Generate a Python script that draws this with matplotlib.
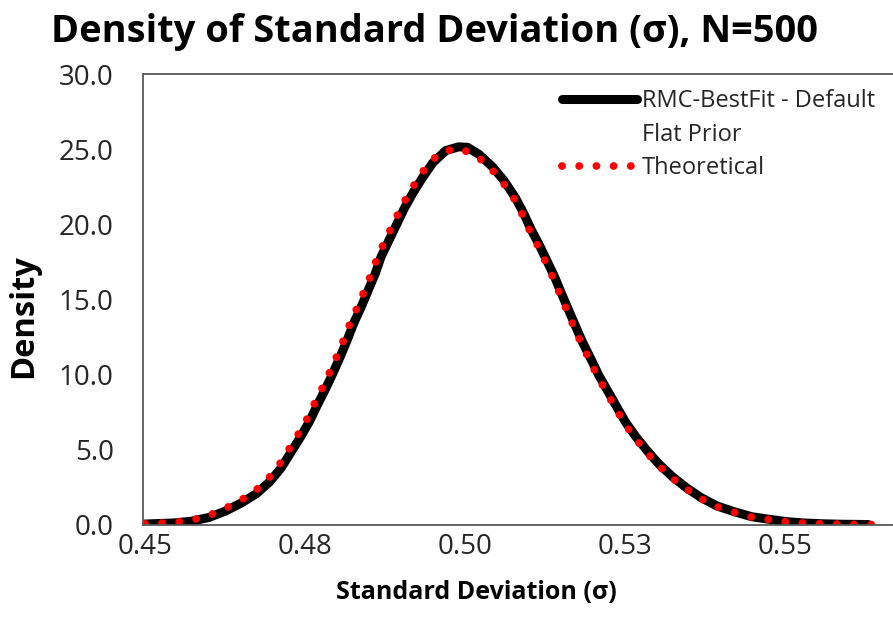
import matplotlib
matplotlib.use("Agg")
import matplotlib.pyplot as plt
from matplotlib.lines import Line2D

plt.rcParams['font.family'] = ['Open Sans', 'DejaVu Sans']

# RMC-BestFit density (default flat prior)
rmc_sigma = [0.4500, 0.4517, 0.4544, 0.4573, 0.4600, 0.4626, 0.4650, 0.4674,
             0.4695, 0.4713, 0.4728, 0.4743, 0.4757, 0.4769, 0.4782, 0.4794,
             0.4805, 0.4816, 0.4826, 0.4838, 0.4849, 0.4860, 0.4869, 0.4881,
             0.4893, 0.4905, 0.4919, 0.4934, 0.4950, 0.4970, 0.4990, 0.5004,
             0.5022, 0.5043, 0.5061, 0.5079, 0.5091, 0.5103, 0.5116, 0.5128,
             0.5140, 0.5151, 0.5162, 0.5173, 0.5184, 0.5197, 0.5209, 0.5223,
             0.5237, 0.5251, 0.5267, 0.5285, 0.5303, 0.5324, 0.5346, 0.5369,
             0.5394, 0.5421, 0.5448, 0.5475, 0.5503, 0.5531, 0.5558, 0.5586,
             0.5630]
rmc_density = [0.03, 0.06, 0.10, 0.22, 0.47, 0.90, 1.42, 2.05,
               2.85, 3.78, 4.80, 5.82, 6.85, 7.92, 9.01, 10.10,
               11.16, 12.28, 13.38, 14.50, 15.61, 16.72, 17.83, 18.90,
               19.96, 21.03, 22.10, 23.12, 24.10, 24.90, 25.15, 25.12,
               24.65, 23.82, 22.90, 21.75, 20.79, 19.68, 18.63, 17.57,
               16.50, 15.37, 14.28, 13.19, 12.12, 11.01, 9.95, 8.90,
               7.85, 6.81, 5.85, 4.90, 4.03, 3.19, 2.45, 1.79,
               1.23, 0.85, 0.52, 0.35, 0.19, 0.10, 0.05, 0.02,
               0.00]

# theoretical density
theo_sigma = [0.4500, 0.4512, 0.4539, 0.4568, 0.4595, 0.4621, 0.4645, 0.4669,
              0.4690, 0.4708, 0.4723, 0.4738, 0.4752, 0.4764, 0.4777, 0.4789,
              0.4800, 0.4811, 0.4821, 0.4833, 0.4844, 0.4855, 0.4864, 0.4876,
              0.4888, 0.4900, 0.4914, 0.4929, 0.4945, 0.4967, 0.4994, 0.5019,
              0.5040, 0.5058, 0.5076, 0.5088, 0.5100, 0.5113, 0.5125, 0.5137,
              0.5148, 0.5159, 0.5170, 0.5181, 0.5194, 0.5206, 0.5220, 0.5234,
              0.5248, 0.5264, 0.5282, 0.5300, 0.5321, 0.5343, 0.5366, 0.5391,
              0.5418, 0.5445, 0.5472, 0.5500, 0.5528, 0.5555, 0.5583, 0.5611,
              0.5640]
theo_density = [0.05, 0.08, 0.12, 0.25, 0.52, 0.97, 1.50, 2.12,
                2.92, 3.85, 4.88, 5.90, 6.92, 7.99, 9.08, 10.17,
                11.23, 12.35, 13.45, 14.57, 15.68, 16.79, 17.90, 18.97,
                20.03, 21.10, 22.17, 23.19, 24.15, 24.90, 25.01, 24.52,
                23.74, 22.85, 21.75, 20.79, 19.68, 18.63, 17.57, 16.50,
                15.37, 14.28, 13.19, 12.12, 11.01, 9.95, 8.90, 7.85,
                6.81, 5.85, 4.90, 4.03, 3.19, 2.45, 1.79, 1.23,
                0.85, 0.52, 0.35, 0.19, 0.10, 0.05, 0.02, 0.01,
                0.00]

xticks = [0.45, 0.475, 0.50, 0.525, 0.55]
xtick_labels = ['0.45', '0.48', '0.50', '0.53', '0.55']
yticks = [0, 5, 10, 15, 20, 25, 30]
ytick_labels = ['0.0', '5.0', '10.0', '15.0', '20.0', '25.0', '30.0']

fig = plt.figure(figsize=(8.93, 6.41), dpi=100)
ax = fig.add_axes([0.1601, 0.1817, 0.8623, 0.7028])

black, = ax.plot(rmc_sigma, rmc_density, color='black', lw=6.5,
                 solid_capstyle='round', solid_joinstyle='round')
red, = ax.plot(theo_sigma, theo_density, color='#ff0000', lw=5.6,
               linestyle=(0, (0.01, 2.2)), dash_capstyle='round')

ax.set_xlim(0.4497, 0.57)
ax.set_ylim(0, 30)
ax.set_xticks(xticks, xtick_labels)
ax.set_yticks(yticks, ytick_labels)
ax.tick_params(axis='both', length=0, labelsize=20, colors='#262626')
ax.tick_params(axis='y', pad=21)
ax.tick_params(axis='x', pad=6)
for sp in ax.spines.values():
    sp.set_color('#595959')
    sp.set_linewidth(1.3)

# excel puts the handle next to the first line of a wrapped label
blank = Line2D([], [], color='none')
ax.legend([black, blank, red], ['RMC-BestFit - Default', 'Flat Prior', 'Theoretical'],
          loc='upper left', bbox_to_anchor=(0.516, 1.013), frameon=False,
          fontsize=17, handlelength=3.2, handletextpad=0.19,
          labelspacing=0.4, labelcolor='#262626')

fig.text(0.4866, 0.950, 'Density of Standard Deviation (σ), N=500',
         ha='center', va='center', fontsize=27.4, fontweight='bold')
fig.text(0.5336, 0.0764, 'Standard Deviation (σ)', ha='center', va='center',
         fontsize=18, fontweight='bold')
fig.text(0.027, 0.507, 'Density', ha='center', va='center', rotation=90,
         fontsize=23.5, fontweight='bold')

fig.savefig('out.png', dpi=100)
